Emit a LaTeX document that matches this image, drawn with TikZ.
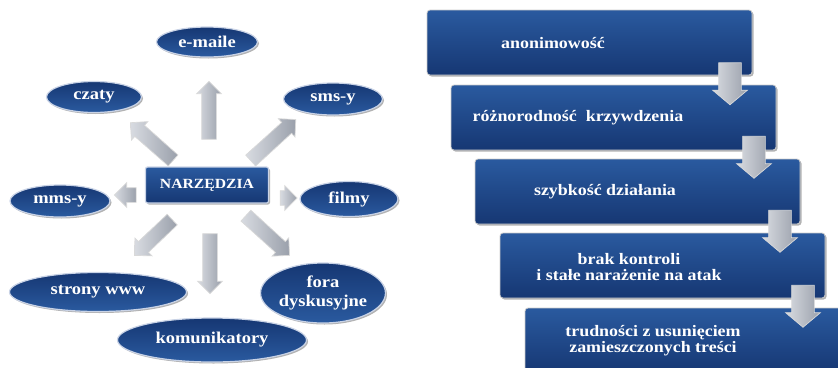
\documentclass[tikz,border=0pt]{standalone}
\usepackage{fontspec}
\setmainfont[FakeStretch=1.12]{Liberation Serif}
\usetikzlibrary{shapes.geometric,shapes.arrows,shadows}
\definecolor{navyD}{HTML}{163773}
\definecolor{navyM}{HTML}{1F4A8E}
\definecolor{navyL}{HTML}{2A5A9F}
\definecolor{rimC}{HTML}{C9D3E6}
\definecolor{arrD}{HTML}{9AA0AB}
\definecolor{arrL}{HTML}{D8DBE1}
\tikzset{
  oval/.style={ellipse, inner sep=0pt, draw=rimC, line width=1.2pt,
    top color=navyD, bottom color=navyL, text=white, align=center,
    font=\bfseries\fontsize{16.5}{19}\selectfont,
    drop shadow={shadow xshift=1.5pt, shadow yshift=-1.5pt, opacity=0.3, fill=black}},
  hubbox/.style={rectangle, rounded corners=2pt, draw=rimC, line width=1.2pt,
    top color=navyL, bottom color=navyD, text=white, inner sep=0pt,
    minimum width=123pt, minimum height=36pt,
    font=\bfseries\fontsize{14}{17}\selectfont,
    drop shadow={shadow xshift=1.5pt, shadow yshift=-1.5pt, opacity=0.3, fill=black}},
  stepbox/.style={rectangle, rounded corners=3pt, draw=gray!40, line width=0.8pt,
    top color=navyL, middle color=navyM, bottom color=navyD, inner sep=0pt,
    minimum width=325pt, minimum height=65pt,
    drop shadow={shadow xshift=1.5pt, shadow yshift=-1.5pt, opacity=0.3, fill=black}},
  steptext/.style={text=white, align=center, inner sep=0pt,
    font=\bfseries\fontsize{16}{16}\selectfont},
  garrow/.style={single arrow, draw=white!70!gray, line width=0.7pt,
    left color=arrL, right color=arrD, inner xsep=0pt, inner ysep=7pt,
    single arrow head extend=5pt, single arrow tip angle=90},
  darrow/.style={single arrow, draw=white!70!gray, line width=0.7pt,
    left color=arrL, right color=arrD, inner xsep=0pt, inner ysep=11pt,
    minimum height=42pt, single arrow head extend=6pt, single arrow tip angle=100,
    rotate=-90}
}
\begin{document}
\begin{tikzpicture}[x=1pt,y=-1pt]
\useasboundingbox (0,0) rectangle (838,367);
\clip (0,0) rectangle (838,367);

% ---- left: tools ----
\node[hubbox] (hub) at (207,185) {NARZĘDZIA};

\node[garrow, minimum height=58pt, rotate=90]    (a1) at (209,114) {};
\node[garrow, minimum height=57pt, rotate=138.5] (a2) at (154.5,144) {};
\node[garrow, minimum height=61pt, rotate=42.3]  (a3) at (270.5,142.5) {};
\node[garrow, minimum height=22pt, rotate=180]   (a4) at (129,195) {};
\node[garrow, minimum height=17pt, rotate=0]     (a5) at (285,198) {};
\node[garrow, minimum height=52pt, rotate=223.5] (a6) at (156,235) {};
\node[garrow, minimum height=60pt, rotate=-90]   (a7) at (210,260) {};
\node[garrow, minimum height=59pt, rotate=-42.3] (a8) at (265,233) {};

\node[oval, minimum width=101pt, minimum height=30pt] (email) at (207,42) {e-maile};
\node[oval, minimum width=95pt,  minimum height=31pt] (czaty) at (94,97)  {czaty};
\node[oval, minimum width=99pt,  minimum height=32pt] (sms)   at (333,99) {sms-y};
\node[oval, minimum width=100pt, minimum height=32pt] (mms)   at (60,201) {mms-y};
\node[oval, minimum width=98pt,  minimum height=35pt] (filmy) at (349,199) {filmy};
\node[oval, minimum width=177pt, minimum height=39pt] (www)   at (98,292) {strony www};
\node[oval, minimum width=123pt, minimum height=60pt] (fora)  at (323,293) {fora\\dyskusyjne};
\node[oval, minimum width=189pt, minimum height=44pt] (kom)   at (212,340) {komunikatory};

% ---- right: steps ----
\node[stepbox] (b1) at (589.5,42.5) {};
\node[stepbox] (b2) at (613.5,117.5) {};
\node[stepbox] (b3) at (637.5,191.5) {};
\node[stepbox] (b4) at (662.5,265.5) {};
\node[stepbox] (b5) at (687.5,340.5) {};

\node[steptext] (t1) at (553,43)  {anonimowość};
\node[steptext] (t2) at (578,118) {różnorodność\ \ krzywdzenia};
\node[steptext] (t3) at (605,192) {szybkość działania};
\node[steptext] (t4) at (629,267) {brak kontroli\\i stałe narażenie na atak};
\node[steptext] (t5) at (653,341) {trudności z usunięciem\\zamieszczonych treści};

\node[darrow] (r1) at (730,79) {};
\node[darrow] (r2) at (754,152.5) {};
\node[darrow] (r3) at (780,226.5) {};
\node[darrow] (r4) at (803,301.5) {};
\end{tikzpicture}
\end{document}
